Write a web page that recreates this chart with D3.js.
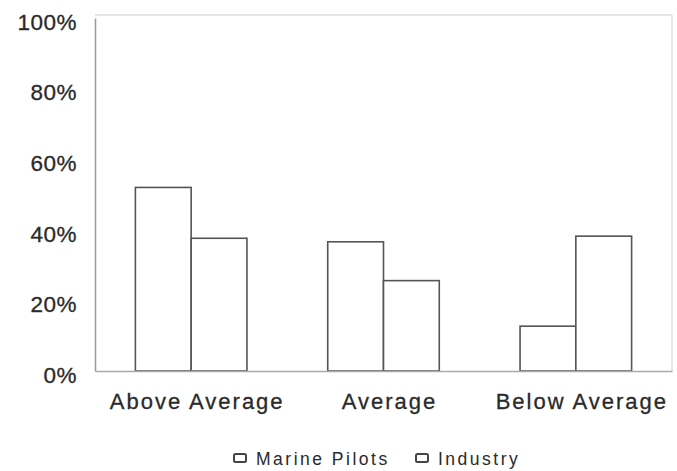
<!DOCTYPE html>
<html><head><meta charset="utf-8">
<script src="https://cdn.jsdelivr.net/npm/d3@7"></script>
<style>body{margin:0;background:#fff}svg{display:block}text{font-family:"Liberation Sans",Arial,sans-serif;fill:#2a2a2a}</style>
</head><body><svg id="c" width="677" height="471"></svg>
<script>
const categories = ["Above Average", "Average", "Below Average"];
const seriesNames = ["Marine Pilots", "Industry"];
const marinePilots = [52, 36.6, 12.7];
const industry = [37.6, 25.6, 38.2];
const yTicks = [0, 20, 40, 60, 80, 100];

const svg = d3.select("#c");
const L = 95, R = 672, T = 18, B = 371;
const x0 = d3.scaleBand().domain(categories).range([L, R]).paddingInner(0.42).paddingOuter(0.21);
const x1 = d3.scaleBand().domain(seriesNames).range([0, x0.bandwidth()]);
const y = d3.scaleLinear().domain([0, 100]).range([B, T]);

// frame
svg.append("line").attr("x1", L).attr("x2", R).attr("y1", T - 3).attr("y2", T - 3).attr("stroke", "#e6e6e6").attr("stroke-width", 2);
svg.append("line").attr("x1", R).attr("x2", R).attr("y1", T - 3).attr("y2", B).attr("stroke", "#e6e6e6").attr("stroke-width", 2);

const data = categories.map((c, i) => ({c, vals: [marinePilots[i], industry[i]]}));
const g = svg.selectAll("g.grp").data(data).join("g").attr("transform", d => `translate(${x0(d.c)},0)`);
g.selectAll("rect").data(d => d.vals.map((v, j) => ({v, s: seriesNames[j]}))).join("rect")
  .attr("x", d => x1(d.s)).attr("width", x1.bandwidth())
  .attr("y", d => y(d.v)).attr("height", d => B - y(d.v))
  .attr("fill", "#fff").attr("stroke", "#555").attr("stroke-width", 1.6);

const FONT = '"Liberation Sans",Arial,sans-serif';
// axes
const ya = svg.append("g").attr("transform", `translate(${L},0)`)
  .call(d3.axisLeft(y).tickValues(yTicks).tickFormat(d => d + "%").tickSize(0).tickPadding(18));
ya.select(".domain").attr("stroke", "#999").attr("stroke-width", 1.5);
ya.selectAll("text").attr("font-size", 22.5).attr("dy", "0.5em").style("font-family", FONT)
  .style("letter-spacing", "0.5px").attr("fill", "#2a2a2a").attr("stroke", "#2a2a2a").attr("stroke-width", 0.3);

const xa = svg.append("g").attr("transform", `translate(0,${B})`)
  .call(d3.axisBottom(x0).tickSize(0).tickPadding(22));
xa.select(".domain").attr("stroke", "#aaa").attr("stroke-width", 1.5);
xa.selectAll("text").attr("font-size", 22).attr("dx", 6).style("font-family", FONT)
  .style("letter-spacing", "2px").attr("fill", "#2a2a2a").attr("stroke", "#2a2a2a").attr("stroke-width", 0.3);

// legend
const leg = svg.append("g").attr("transform", "translate(233,460)");
const items = leg.selectAll("g").data(seriesNames).join("g").attr("transform", (d, i) => `translate(${i * 182},0)`);
items.append("rect").attr("x", 1).attr("y", -6).attr("width", 12).attr("height", 8).attr("rx", 1.5)
  .attr("fill", "#fff").attr("stroke", "#444").attr("stroke-width", 2);
items.append("text").attr("x", 23).attr("y", 5).attr("font-size", 17.5).style("letter-spacing", "2.5px").text(d => d);
</script></body></html>
